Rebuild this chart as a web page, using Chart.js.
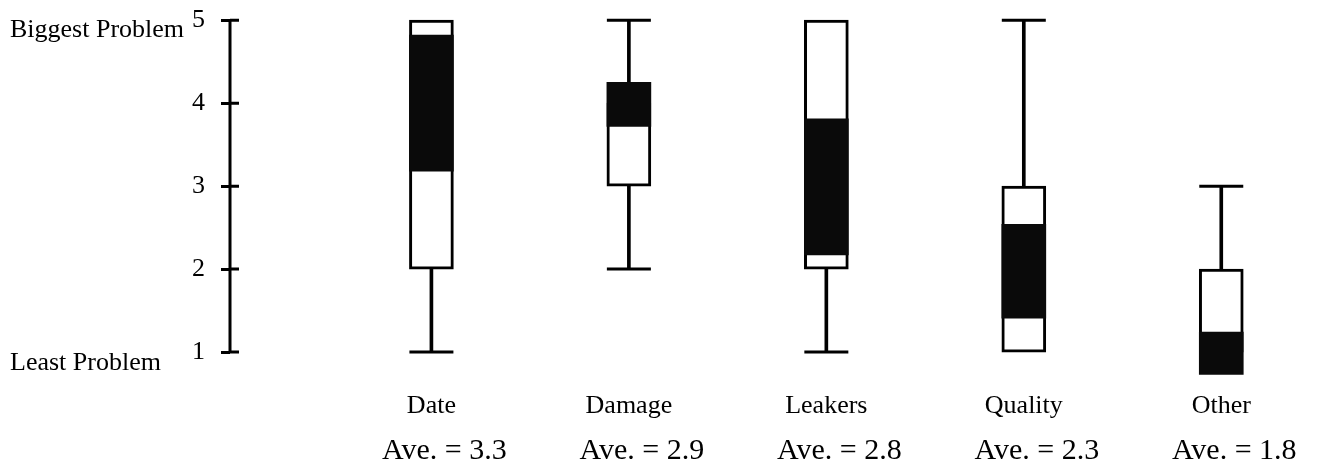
<!DOCTYPE html>
<html>
<head>
	<meta charset="utf-8">
	<title>Problem ranking</title>
	<style>
		html, body { margin: 0; padding: 0; background: #fff; }
		.wrap { position: relative; width: 1321px; height: 466px; }
	</style>
</head>
<body>
	<div class="wrap"><canvas id="chart"></canvas></div>
	<script src="https://cdn.jsdelivr.net/npm/chart.js@4/dist/chart.umd.min.js"></script>
	<script>
		'use strict'

		const categories = ['Date', 'Damage', 'Leakers', 'Quality', 'Other']
		const averages = [3.3, 2.9, 2.8, 2.3, 1.8]
		const mins = [1, 2, 1, 1, 2]
		const q1 = [2, 3, 2, 1, 1]
		const q3 = [5, 4, 5, 3, 2]
		const maxs = [5, 5, 5, 5, 3]
		// dark band inside each box
		const bandLow = [3.18, 3.72, 2.17, 1.41, 0.73]
		const bandHigh = [4.82, 4.25, 3.81, 2.54, 1.24]
		const yTicks = [1, 2, 3, 4, 5]

		const serif = '"Liberation Serif", "DejaVu Serif", serif'
		Chart.defaults.font.family = serif
		Chart.defaults.color = '#000'

		const pos = categories.map((c, i) => i + 1)

		const boxes = pos.map((x, i) => ({ x, y: [q1[i], q3[i]] }))
		const bands = pos.map((x, i) => ({ x, y: [bandLow[i], bandHigh[i]] }))
		const lowWhisker = pos.map((x, i) => ({ x, y: [mins[i], q1[i]] })).filter((d, i) => mins[i] < q1[i])
		const highWhisker = pos.map((x, i) => ({ x, y: [q3[i], maxs[i]] })).filter((d, i) => maxs[i] > q3[i])
		const caps = []
		pos.forEach((x, i) => {
			if (mins[i] < q1[i]) caps.push({ x, y: mins[i] })
			if (maxs[i] > q3[i]) caps.push({ x, y: maxs[i] })
		})

		// y axis line from 1 to 5 with ticks crossing it, plus the end labels
		const axisDecor = {
			id: 'axisDecor',
			afterDraw(chart) {
				const ctx = chart.ctx
				const y = chart.scales.y
				const x0 = chart.chartArea.left
				ctx.save()
				ctx.strokeStyle = '#000'
				ctx.lineWidth = 3
				ctx.beginPath()
				ctx.moveTo(x0, y.getPixelForValue(5) - 1)
				ctx.lineTo(x0, y.getPixelForValue(1) + 1)
				yTicks.forEach(v => {
					const py = y.getPixelForValue(v)
					ctx.moveTo(x0, py)
					ctx.lineTo(x0 + 9, py)
				})
				ctx.stroke()

				ctx.fillStyle = '#000'
				ctx.font = '26px ' + serif
				ctx.textAlign = 'left'
				ctx.textBaseline = 'alphabetic'
				ctx.fillText('Biggest Problem', 10, y.getPixelForValue(5) + 17)
				ctx.fillText('Least Problem', 10, y.getPixelForValue(1) + 18)
				ctx.restore()
			}
		}

		const noSidePad = s => { s.paddingLeft = 0; s.paddingRight = 0 }

		new Chart(document.getElementById('chart'), {
			type: 'bar',
			data: {
				datasets: [
					{
						label: 'band',
						data: bands,
						backgroundColor: '#0a0a0a',
						borderWidth: 0,
						barThickness: 44,
						grouped: false,
						order: 0
					},
					{
						label: 'box',
						data: boxes,
						backgroundColor: '#fff',
						borderColor: '#000',
						borderWidth: 3,
						borderSkipped: false,
						barThickness: 44,
						grouped: false,
						order: 1
					},
					{
						label: 'low whisker',
						data: lowWhisker,
						backgroundColor: '#000',
						borderWidth: 0,
						barThickness: 3,
						grouped: false,
						order: 2
					},
					{
						label: 'high whisker',
						data: highWhisker,
						backgroundColor: '#000',
						borderWidth: 0,
						barThickness: 3,
						grouped: false,
						order: 2
					},
					{
						type: 'scatter',
						label: 'caps',
						data: caps,
						pointStyle: 'line',
						pointRadius: 22,
						borderColor: '#000',
						borderWidth: 3,
						clip: false,
						order: 3
					}
				]
			},
			options: {
				responsive: true,
				maintainAspectRatio: false,
				animation: false,
				layout: { autoPadding: false, padding: { top: 16, right: 1, left: 0, bottom: 0 } },
				plugins: {
					legend: { display: false },
					tooltip: { enabled: false }
				},
				scales: {
					x: {
						type: 'linear',
						position: 'bottom',
						offset: false,
						weight: 0,
						min: -0.02,
						max: 5.5,
						grid: { display: false },
						border: { display: false },
						afterBuildTicks: s => { s.ticks = pos.map(v => ({ value: v })) },
						afterFit: s => { s.height = 47; noSidePad(s) },
						ticks: {
							autoSkip: false,
							maxRotation: 0,
							padding: 6,
							font: { size: 26 },
							callback: v => categories[v - 1]
						}
					},
					x2: {
						type: 'linear',
						position: 'bottom',
						offset: false,
						weight: 1,
						min: -0.02,
						max: 5.5,
						grid: { display: false },
						border: { display: false },
						afterBuildTicks: s => { s.ticks = pos.map(v => ({ value: v })) },
						afterFit: s => { s.height = 42; noSidePad(s) },
						ticks: {
							autoSkip: false,
							maxRotation: 0,
							padding: 1,
							labelOffset: 13,
							font: { size: 30 },
							callback: v => 'Ave. = ' + averages[v - 1].toFixed(1)
						}
					},
					y: {
						min: 0.7,
						max: 5.05,
						afterBuildTicks: s => { s.ticks = yTicks.map(v => ({ value: v })) },
						afterFit: s => { s.width = 230; s.paddingTop = 0; s.paddingBottom = 0 },
						grid: {
							drawOnChartArea: false,
							drawTicks: true,
							tickLength: 9,
							tickWidth: 3,
							tickColor: '#000'
						},
						border: { display: false },
						ticks: {
							padding: 16,
							font: { size: 26 }
						}
					}
				}
			},
			plugins: [axisDecor]
		})
	</script>
</body>
</html>
